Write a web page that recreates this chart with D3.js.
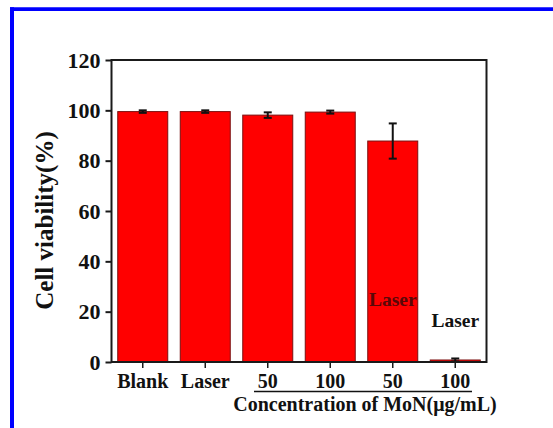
<!DOCTYPE html>
<html>
<head>
<meta charset="utf-8">
<script src="https://cdn.jsdelivr.net/npm/d3@7"></script>
<style>
  html, body { margin: 0; padding: 0; background: #fff; }
  svg { display: block; }
  svg text {
    font-family: "Liberation Serif", Tinos, "Times New Roman", Times, "DejaVu Serif", "Noto Serif", serif !important;
    font-weight: bold;
  }
</style>
</head>
<body>
<svg id="chart" width="553" height="428"></svg>
<script>
// Cell viability per treatment group
const categories = ["Blank", "Laser", "50", "100", "50", "100"];
const viability = [99.5, 99.5, 98.1, 99.3, 87.8, 0.8];
const errors = [0.5, 0.5, 1.1, 0.6, 7.0, 0.6];
const yTicks = [0, 20, 40, 60, 80, 100, 120];
const laserGroups = [4, 5];           // groups irradiated with the laser
const yTitle = "Cell viability(%)";
const xTitle = "Concentration of MoN(\u03bcg/mL)";

const svg = d3.select("#chart");
const W = 553, H = 428;
const m = { left: 111.5, right: W - 486.5, top: 60, bottom: H - 362 };

// page frame
svg.append("line").attr("x1", 10).attr("x2", W).attr("y1", 9.2).attr("y2", 9.2)
  .attr("stroke", "#0000ff").attr("stroke-width", 3.8);
svg.append("line").attr("x1", 12).attr("x2", 12).attr("y1", 7.3).attr("y2", H)
  .attr("stroke", "#0000ff").attr("stroke-width", 4);

const x = d3.scaleBand()
  .domain(d3.range(categories.length))
  .range([m.left, W - m.right])
  .paddingInner(0.2)
  .paddingOuter(0.1);

const y = d3.scaleLinear().domain([0, 120]).range([H - m.bottom, m.top]);

// bars
svg.append("g").selectAll("rect")
  .data(viability)
  .join("rect")
  .attr("x", (d, i) => x(i))
  .attr("width", x.bandwidth())
  .attr("y", d => y(d))
  .attr("height", d => y(0) - y(d))
  .attr("fill", "#ff0000")
  .attr("stroke", "#7a1010")
  .attr("stroke-width", 1);

// error bars
const eb = svg.append("g").attr("stroke", "#111").attr("stroke-width", 2);
viability.forEach((v, i) => {
  const cx = x(i) + x.bandwidth() / 2;
  const top = y(v + errors[i]), bot = y(v - errors[i]);
  eb.append("line").attr("x1", cx).attr("x2", cx).attr("y1", top).attr("y2", bot);
  eb.append("line").attr("x1", cx - 4).attr("x2", cx + 4).attr("y1", top).attr("y2", top);
  eb.append("line").attr("x1", cx - 4).attr("x2", cx + 4).attr("y1", bot).attr("y2", bot);
});

// frame around plot area
svg.append("rect")
  .attr("x", m.left).attr("y", m.top)
  .attr("width", W - m.left - m.right).attr("height", H - m.top - m.bottom)
  .attr("fill", "none").attr("stroke", "#1a1a1a").attr("stroke-width", 2);

// y axis
const yAxis = svg.append("g")
  .attr("transform", `translate(${m.left},0)`)
  .call(d3.axisLeft(y).tickValues(yTicks).tickSize(6).tickPadding(5));
yAxis.attr("font-family", null);
yAxis.select(".domain").remove();
yAxis.selectAll("line").attr("stroke", "#1a1a1a").attr("stroke-width", 2);
yAxis.selectAll("text").attr("font-size", 22).attr("fill", "#111");

// x axis
const xAxis = svg.append("g")
  .attr("transform", `translate(0,${H - m.bottom})`)
  .call(d3.axisBottom(x).tickFormat(i => categories[i]).tickSize(6).tickPadding(6));
xAxis.attr("font-family", null);
xAxis.select(".domain").remove();
xAxis.selectAll("line").attr("stroke", "#1a1a1a").attr("stroke-width", 1.5);
xAxis.selectAll("text").attr("font-size", 20).attr("fill", "#111");

// y title
svg.append("text")
  .attr("transform", `translate(53,220.5) rotate(-90)`)
  .attr("text-anchor", "middle")
  .attr("font-size", 25)
  .attr("fill", "#111")
  .text(yTitle);

// bracket under the MoN concentration groups
svg.append("line")
  .attr("x1", 254).attr("x2", 472)
  .attr("y1", 391.5).attr("y2", 391.5)
  .attr("stroke", "#111").attr("stroke-width", 1.6);

svg.append("text")
  .attr("x", 365).attr("y", 411)
  .attr("text-anchor", "middle")
  .attr("font-size", 20)
  .attr("fill", "#111")
  .text(xTitle);

// "Laser" markers for irradiated groups
laserGroups.forEach(i => {
  const cx = x(i) + x.bandwidth() / 2;
  const inside = viability[i] > 30;
  svg.append("text")
    .attr("x", cx)
    .attr("y", inside ? y(22.3) : y(14))
    .attr("text-anchor", "middle")
    .attr("font-size", 19.5)
    .attr("fill", inside ? "#5a0808" : "#111")
    .text("Laser");
});
</script>
</body>
</html>
